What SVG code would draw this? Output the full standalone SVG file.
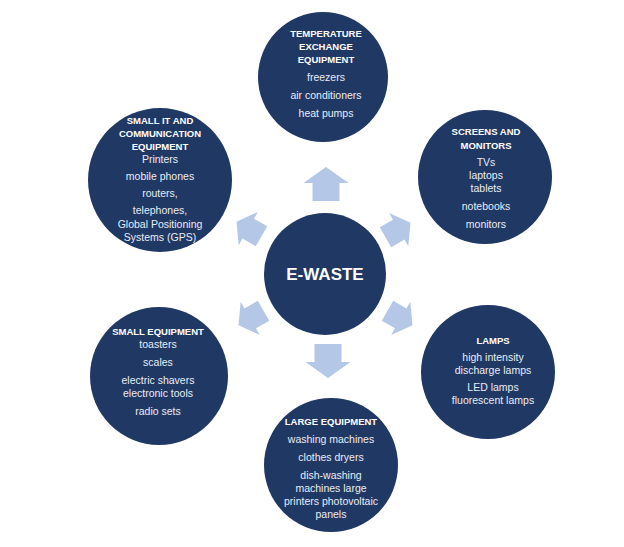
<svg xmlns="http://www.w3.org/2000/svg" width="624" height="547" viewBox="0 0 624 547">
<defs>
<style>
.c{fill:#203864}
.a{fill:#b4c7e7}
text{font-family:"Liberation Sans",Arial,sans-serif;text-anchor:middle}
.t{fill:#ffffff;font-weight:bold;font-size:9.5px}
.b{fill:#e9edf5;font-size:10.5px}
.m{fill:#ffffff;font-weight:bold;font-size:17px}
</style>
<polygon id="arr" points="-17,-13.5 1,-13.5 1,-22.5 17,0 1,22.5 1,13.5 -17,13.5"/>
</defs>
<rect width="624" height="547" fill="#ffffff"/>
<g id="connectors" class="a">
<use href="#arr" transform="translate(326,184) rotate(-90)"/>
<use href="#arr" transform="translate(328,361) rotate(90)"/>
<use href="#arr" transform="translate(398,230) rotate(-30) scale(0.85)"/>
<use href="#arr" transform="translate(400,318) rotate(30) scale(0.85)"/>
<use href="#arr" transform="translate(249,229) rotate(-150) scale(0.85)"/>
<use href="#arr" transform="translate(251,318) rotate(150) scale(0.85)"/>
</g>
<g id="center">
<circle class="c" cx="325" cy="274" r="61"/>
<text class="m" x="325" y="280">E-WASTE</text>
</g>
<g id="temperature">
<circle class="c" cx="323" cy="77" r="65"/>
<text class="t" x="326" y="37">TEMPERATURE</text>
<text class="t" x="326" y="50">EXCHANGE</text>
<text class="t" x="326" y="63">EQUIPMENT</text>
<text class="b" x="326" y="81">freezers</text>
<text class="b" x="326" y="99">air conditioners</text>
<text class="b" x="326" y="117">heat pumps</text>
</g>
<g id="screens">
<circle class="c" cx="485" cy="177" r="67"/>
<text class="t" x="486" y="135">SCREENS AND</text>
<text class="t" x="486" y="149">MONITORS</text>
<text class="b" x="486" y="166">TVs</text>
<text class="b" x="486" y="179">laptops</text>
<text class="b" x="486" y="192">tablets</text>
<text class="b" x="486" y="210">notebooks</text>
<text class="b" x="486" y="228">monitors</text>
</g>
<g id="lamps">
<circle class="c" cx="488" cy="372" r="67"/>
<text class="t" x="493" y="344">LAMPS</text>
<text class="b" x="493" y="361">high intensity</text>
<text class="b" x="493" y="374">discharge lamps</text>
<text class="b" x="493" y="391">LED lamps</text>
<text class="b" x="493" y="404">fluorescent lamps</text>
</g>
<g id="large">
<circle class="c" cx="331" cy="465" r="67"/>
<text class="t" x="331" y="425">LARGE EQUIPMENT</text>
<text class="b" x="331" y="443">washing machines</text>
<text class="b" x="331" y="461">clothes dryers</text>
<text class="b" x="331" y="479">dish-washing</text>
<text class="b" x="331" y="492">machines large</text>
<text class="b" x="331" y="505">printers photovoltaic</text>
<text class="b" x="331" y="518">panels</text>
</g>
<g id="small-equipment">
<circle class="c" cx="159" cy="376" r="69"/>
<text class="t" x="158" y="335">SMALL EQUIPMENT</text>
<text class="b" x="158" y="348">toasters</text>
<text class="b" x="158" y="366">scales</text>
<text class="b" x="158" y="384">electric shavers</text>
<text class="b" x="158" y="397">electronic tools</text>
<text class="b" x="158" y="415">radio sets</text>
</g>
<g id="small-it">
<circle class="c" cx="160" cy="180" r="72"/>
<text class="t" x="160" y="124">SMALL IT AND</text>
<text class="t" x="160" y="137">COMMUNICATION</text>
<text class="t" x="160" y="150">EQUIPMENT</text>
<text class="b" x="160" y="163">Printers</text>
<text class="b" x="160" y="180">mobile phones</text>
<text class="b" x="160" y="197">routers,</text>
<text class="b" x="160" y="214">telephones,</text>
<text class="b" x="160" y="228">Global Positioning</text>
<text class="b" x="160" y="241">Systems (GPS)</text>
</g>
</svg>
